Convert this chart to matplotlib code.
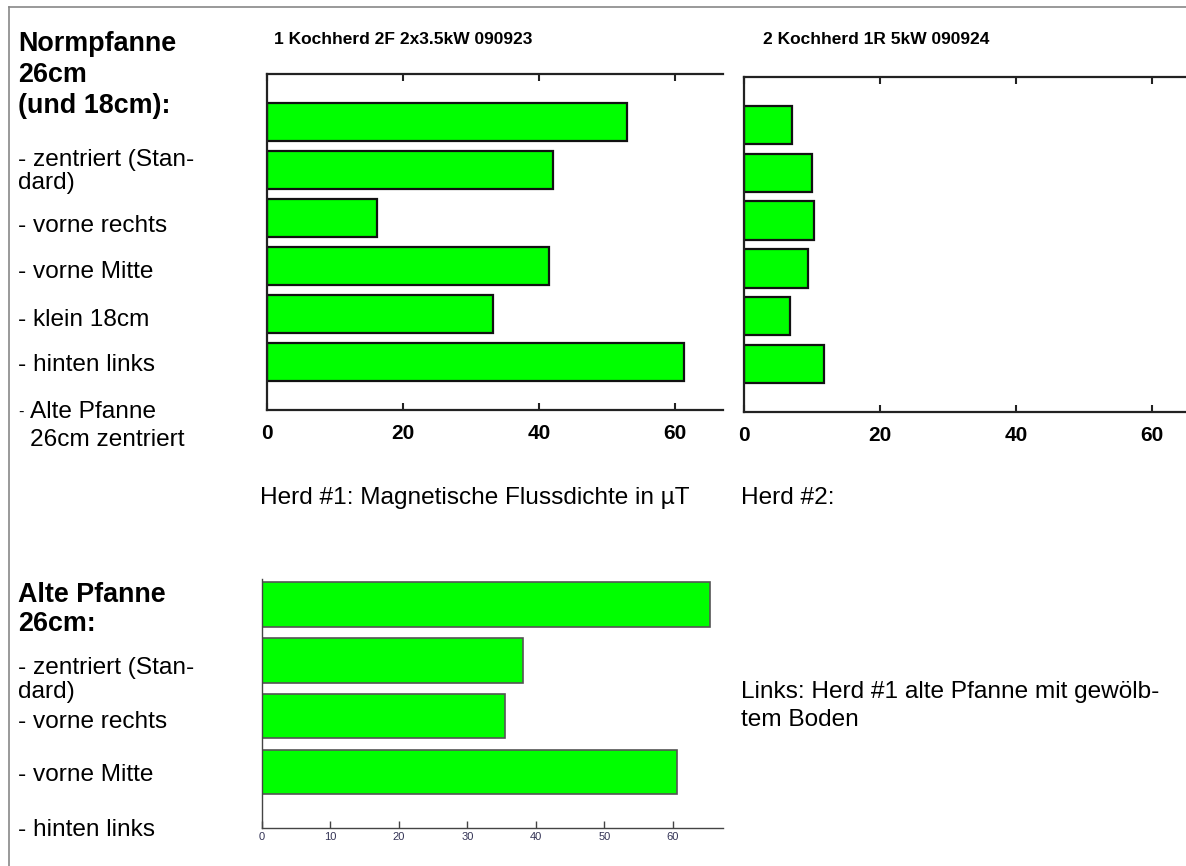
import matplotlib
matplotlib.use("Agg")
import matplotlib.pyplot as plt
from matplotlib.lines import Line2D

# ---- data ----
positions_norm = ["zentriert (Standard)", "vorne rechts", "vorne Mitte",
                  "klein 18cm", "hinten links", "Alte Pfanne 26cm zentriert"]
herd1 = [53.0, 42.1, 16.2, 41.5, 33.2, 61.3]
herd2 = [7.1, 10.0, 10.3, 9.4, 6.8, 11.8]
positions_alt = ["zentriert (Standard)", "vorne rechts", "vorne Mitte", "hinten links"]
alte_pfanne = [65.4, 38.1, 35.5, 60.6]
title1 = "1 Kochherd 2F 2x3.5kW 090923"
title2 = "2 Kochherd 1R 5kW 090924"
top_ticks = [0, 20, 40, 60]
bottom_ticks = [0, 10, 20, 30, 40, 50, 60]

W, H = 1186, 866
fig = plt.figure(figsize=(W / 100, H / 100), dpi=100)
fig.patch.set_facecolor("white")


def rect(l, t, r, b):
    return [l / W, 1 - b / H, (r - l) / W, (b - t) / H]


def ftext(x, y, s, **kw):
    fig.text(x / W, 1 - y / H, s, **kw)


GREEN = "#00ff00"
sans = "Liberation Sans"


def top_chart(rc, values, title, title_x):
    ax = fig.add_axes(rc)
    ypos = list(range(len(values)))
    ax.barh(ypos, values, height=0.8, color=GREEN, edgecolor="#111111", linewidth=1.6)
    ax.set_xlim(0, 67)
    ax.set_ylim(6, -1)
    ax.spines["right"].set_visible(False)
    for s in ("top", "left", "bottom"):
        ax.spines[s].set_linewidth(1.6)
        ax.spines[s].set_color("#222222")
    ax.set_yticks([])
    ax.set_xticks(top_ticks)
    ax.set_xticklabels([str(t) for t in top_ticks], fontweight="bold",
                       fontsize=15, family=sans)
    ax.tick_params(axis="x", direction="in", length=5, width=1.5, top=True,
                   bottom=True, labeltop=False, pad=10, color="#222222")
    ax.set_facecolor("white")
    ftext(title_x, 40, title, ha="center", va="center", fontsize=12.5,
          fontweight="bold", family=sans)
    return ax


top_chart(rect(267, 74, 267 + 67 * 6.8, 410), herd1, title1, 403)
top_chart(rect(744, 77, 744 + 67 * 6.8, 412), herd2, title2, 876)

# bottom chart
ax3 = fig.add_axes(rect(262, 579, 723, 828))
ax3.barh(range(len(alte_pfanne)), alte_pfanne, height=0.8, color=GREEN,
         edgecolor="#555555", linewidth=1.2)
ax3.set_xlim(0, 67.3)
ax3.set_ylim(4, -0.45)
ax3.spines["right"].set_visible(False)
ax3.spines["top"].set_visible(False)
for s in ("left", "bottom"):
    ax3.spines[s].set_color("#444444")
    ax3.spines[s].set_linewidth(1.0)
ax3.set_yticks([])
ax3.set_xticks(bottom_ticks)
ax3.set_xticklabels([str(t) for t in bottom_ticks], fontsize=8,
                    color="#333355", family=sans)
ax3.tick_params(axis="x", direction="in", length=5, width=1, color="#444444", pad=3)

# page frame
fig.add_artist(Line2D([9 / W, 1], [1 - 7 / H, 1 - 7 / H], color="#888888", lw=1.2))
fig.add_artist(Line2D([9 / W, 9 / W], [1 - 7 / H, 0], color="#888888", lw=1.2))

# left text
bsize, rsize = 19.4, 17.6
for y, s in [(44, "Normpfanne"), (75, "26cm"), (106, "(und 18cm):"),
             (595, "Alte Pfanne"), (624, "26cm:")]:
    ftext(18, y, s, fontsize=bsize, fontweight="bold", family=sans, va="center")

for y, s in [(160, "- zentriert (Stan-"), (183, "dard)"),
             (226, "- vorne rechts"), (272, "- vorne Mitte"),
             (320, "- klein 18cm"), (365, "- hinten links"),
             (668, "- zentriert (Stan-"), (692, "dard)"),
             (722, "- vorne rechts"), (775, "- vorne Mitte"),
             (830, "- hinten links")]:
    ftext(18, y, s, fontsize=rsize, family=sans, va="center")

ftext(18, 412, "-", fontsize=12, family=sans, va="center")
ftext(30, 412, "Alte Pfanne", fontsize=rsize, family=sans, va="center")
ftext(30, 440, "26cm zentriert", fontsize=rsize, family=sans, va="center")

ftext(260, 498, "Herd #1: Magnetische Flussdichte in \u00b5T", fontsize=rsize,
      family=sans, va="center")
ftext(741, 498, "Herd #2:", fontsize=rsize, family=sans, va="center")
ftext(741, 692, "Links: Herd #1 alte Pfanne mit gewölb-", fontsize=rsize,
      family=sans, va="center")
ftext(741, 720, "tem Boden", fontsize=rsize, family=sans, va="center")

fig.savefig("out.png", dpi=100, facecolor="white")
